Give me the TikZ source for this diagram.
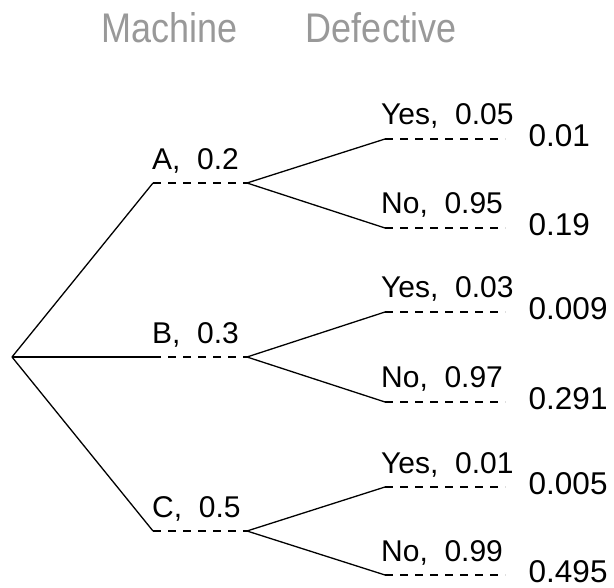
\documentclass[tikz,border=0pt]{standalone}
\usepackage{fontspec}
\setmainfont{Liberation Sans}
\definecolor{headgray}{RGB}{153,153,153}
\begin{document}
\begin{tikzpicture}[x=1pt,y=-1pt,
  branch/.style={line width=1.3pt, black},
  stub/.style={line width=1.3pt, black, dash pattern=on 8pt off 7pt},
  lbl/.style={anchor=base west, inner sep=0pt, font=\fontsize{30}{32}\selectfont},
  jointlbl/.style={lbl, font=\fontsize{31.5}{33}\selectfont},
  head/.style={anchor=base, inner sep=0pt, text=headgray, font=\fontsize{36}{40}\selectfont}]
\useasboundingbox (0,0) rectangle (614,588);

% column headings
\node[head] (hmach) at (170,43) {\scalebox{1}[1.15]{Machine}};
\node[head] (hdef) at (381,43) {\scalebox{1}[1.15]{Defective}};

% root of the tree
\coordinate (root) at (12,357);

% machines: name/y/probability
\foreach \m/\y/\p in {A/183/0.2, B/357/0.3, C/531/0.5} {
  \coordinate (\m s) at (153,\y);
  \coordinate (\m e) at (247,\y);
  \draw[branch] (root) -- (\m s);
  \draw[stub] (\m s) -- (\m e);
  \node[lbl] (\m lab) at (152,\y-13) {\m,\ \ \p};
}

% defective outcomes: machine/answer/offset/probability/joint
\foreach \m/\y/\a/\d/\p/\j in {
  A/183/Yes/-44/0.05/0.01, A/183/No/45/0.95/0.19,
  B/357/Yes/-45/0.03/0.009, B/357/No/45/0.97/0.291,
  C/531/Yes/-44/0.01/0.005, C/531/No/44/0.99/0.495} {
  \coordinate (\m\a s) at (385,\y+\d);
  \coordinate (\m\a e) at (505,\y+\d);
  \draw[branch] (\m e) -- (\m\a s);
  \draw[stub] (\m\a s) -- (\m\a e);
  \node[lbl] (\m\a lab) at (381,\y+\d-14) {\a,\ \ \p};
  \node[jointlbl] (\m\a joint) at (528.5,\y+\d+7.5) {\j};
}
\end{tikzpicture}
\end{document}
